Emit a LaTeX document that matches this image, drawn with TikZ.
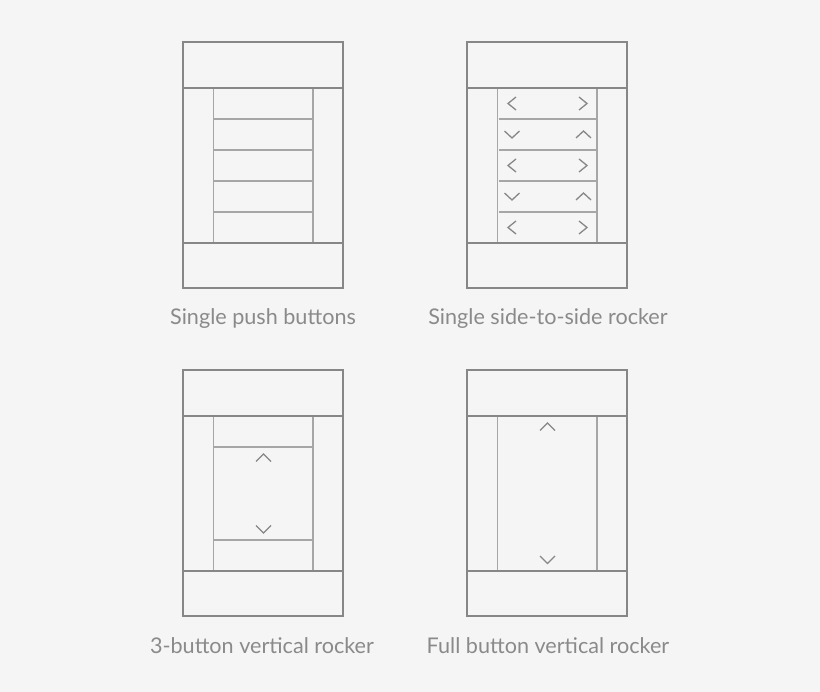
\documentclass[tikz,border=0pt]{standalone}
\usepackage{fontspec}
\setmainfont{Lato}
\definecolor{pagegray}{HTML}{F5F5F5}
\definecolor{framegray}{HTML}{878787}
\definecolor{splitgray}{HTML}{A6A6A6}
\definecolor{labelgray}{HTML}{8A8A8A}

\begin{document}
\begin{tikzpicture}[x=1pt, y=-1pt,
        frame/.style={draw=framegray, line width=2.6pt},
        band/.style={draw=framegray, line width=2pt},
        split/.style={draw=splitgray, line width=1.7pt},
        chevron/.style={draw=framegray, line width=1.3pt},
        caption/.style={text=labelgray, anchor=base, inner sep=0pt,
          font=\fontsize{21.6}{26}\selectfont}
      ]
      \fill[pagegray] (0,0) rectangle (820,692);
      % the four wall plates
      \foreach \px/\py in {183/42, 467/42, 183/370, 467/370} {
        \draw[split] (\px+30.5,\py+46) -- (\px+30.5,\py+201)
                     (\px+130,\py+46) -- (\px+130,\py+201);
        \draw[band] (\px,\py+46) -- (\px+160,\py+46)
                    (\px,\py+201) -- (\px+160,\py+201);
        \draw[frame] (\px,\py) rectangle (\px+160,\py+246);
      }
      % single push buttons
      \foreach \ly in {119,150,181,212}
        \draw[split] (213.5,\ly) -- (313,\ly);
      % side-to-side rocker
      \foreach \ly in {119,150,181,212}
        \draw[split] (498.5,\ly) -- (597,\ly);
      \foreach \ly in {103.5,165.5,227.5} {
        \draw[chevron] (516,\ly-6.5) -- (508,\ly) -- (516,\ly+6.5);
        \draw[chevron] (579,\ly-6.5) -- (587,\ly) -- (579,\ly+6.5);
      }
      \foreach \ly in {134.5,196.5} {
        \draw[chevron] (504.5,\ly-3.5) -- (512,\ly+3.5) -- (519.5,\ly-3.5);
        \draw[chevron] (576,\ly+3.5) -- (583.5,\ly-3.5) -- (591,\ly+3.5);
      }
      % 3-button rocker
      \draw[split] (213.5,447) -- (313,447)
                   (213.5,540) -- (313,540);
      \draw[chevron] (256,461.5) -- (263.5,454) -- (271,461.5);
      \draw[chevron] (256,525.5) -- (263.5,533) -- (271,525.5);
      % full rocker
      \draw[chevron] (540,430.5) -- (547.5,423) -- (555,430.5);
      \draw[chevron] (540,556) -- (547.5,563.5) -- (555,556);
      % captions
      \node[caption] (push)   at (263,325) {Single push buttons};
      \node[caption] (side)   at (548,325) {Single side-to-side rocker};
      \node[caption] (three)  at (262,653) {3-button vertical rocker};
      \node[caption] (full)   at (548,653) {Full button vertical rocker};
    \end{tikzpicture}
\end{document}
